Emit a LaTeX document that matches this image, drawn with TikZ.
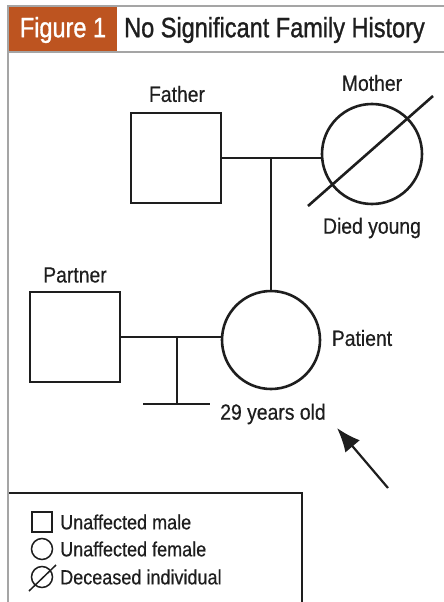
\documentclass[tikz,border=0pt]{standalone}
\usepackage{fontspec}
\setmainfont[FakeStretch=0.85]{Liberation Sans}
\newfontfamily\labelfont[FakeStretch=0.88,FakeBold=0.5]{Liberation Sans}
\newfontfamily\headfont[FakeStretch=0.84,FakeBold=1.1]{Liberation Sans}
\usetikzlibrary{arrows.meta,calc,positioning}
\definecolor{figorange}{RGB}{189,84,32}
\definecolor{framegray}{RGB}{165,165,165}
\definecolor{inkblack}{RGB}{30,30,30}

\tikzset{
  pedline/.style={line width=2.6pt,draw=inkblack},
  male/.style={pedline,rectangle,minimum size=90pt,inner sep=0pt},
  female/.style={pedline,circle,inner sep=0pt},
  lbl/.style={text=inkblack,font=\labelfont\fontsize{22}{24}\selectfont,inner sep=0pt},
  keytext/.style={text=inkblack,font=\labelfont\fontsize{20.5}{22}\selectfont,inner sep=0pt,anchor=west},
  keysym/.style={line width=1.5pt,draw=inkblack,inner sep=0pt},
}

\begin{document}
\begin{tikzpicture}[x=1pt,y=-1pt]
	\useasboundingbox (0,0) rectangle (444,602);
	
	% frame and header
	\draw[framegray,line width=2pt] (8,602) -- (8,6) -- (444,6);
	\draw[framegray,line width=2pt] (8,52) -- (444,52);
	\fill[figorange] (9,7) rectangle (117,51);
	\node[text=white,font=\headfont\fontsize{28}{30}\selectfont,inner sep=0pt] (fig) at (63,30) {Figure 1};
	\node[text=inkblack,font=\headfont\fontsize{28}{30}\selectfont,inner sep=0pt,anchor=west] (title) at (124,30) {No Significant Family History};
	
	% parents
	\node[male] (father) at (176,158) {};
	\node[female,minimum size=100pt] (mother) at (372,154) {};
	\node[lbl] (fatherlbl) at (177,94) {Father};
	\node[lbl] (motherlbl) at (372,83) {Mother};
	\node[lbl] (diedlbl) at (372,228) {Died young};
	\draw[pedline] ($(mother.center)+(-64,52)$) -- ($(mother.center)+(61,-58)$);
	\draw[pedline] (father.east) -- (father.east -| mother.west);
	
	% patient and partner
	\node[female,minimum size=98pt] (patient) at (271,340) {};
	\node[male] (partner) at (75,337) {};
	\node[lbl] (partnerlbl) at (75,275) {Partner};
	\node[lbl] (patientlbl) at (362,338) {Patient};
	\node[lbl] (agelbl) at (273,414) {29 years old};
	\draw[pedline] (father.east -| patient.north) -- (patient.north);
	\draw[pedline] (partner.east) -- (partner.east -| patient.west);
	
	\coordinate (sib) at (177,404);
	\draw[pedline] (partner.east -| sib) -- (sib);
	\draw[pedline] ([xshift=-34pt]sib) -- ([xshift=33pt]sib);
	
	% proband arrow
	\coordinate (arrtail) at (388,488);
	\coordinate (arrtip) at (337,428);
	\draw[pedline,line width=2.2pt,-{Latex[length=24pt,width=19pt]}] (arrtail) -- (arrtip);
	
	% key
	\draw[inkblack,line width=1.6pt] (9,493) -- (302,493) -- (302,603);
	\node[keysym,rectangle,minimum size=20pt] (keym) at (42,522) {};
	\node[keysym,circle,minimum size=21pt] (keyf) at (42,549) {};
	\node[keysym,circle,minimum size=21pt] (keyd) at (42,577) {};
	\draw[keysym] ($(keyd.center)+(-13,14)$) -- ($(keyd.center)+(14,-12)$);
	\node[keytext] (keymtxt) at (60,522) {Unaffected male};
	\node[keytext] (keyftxt) at (60,549) {Unaffected female};
	\node[keytext] (keydtxt) at (60,577) {Deceased individual};
	
\end{tikzpicture}
\end{document}
